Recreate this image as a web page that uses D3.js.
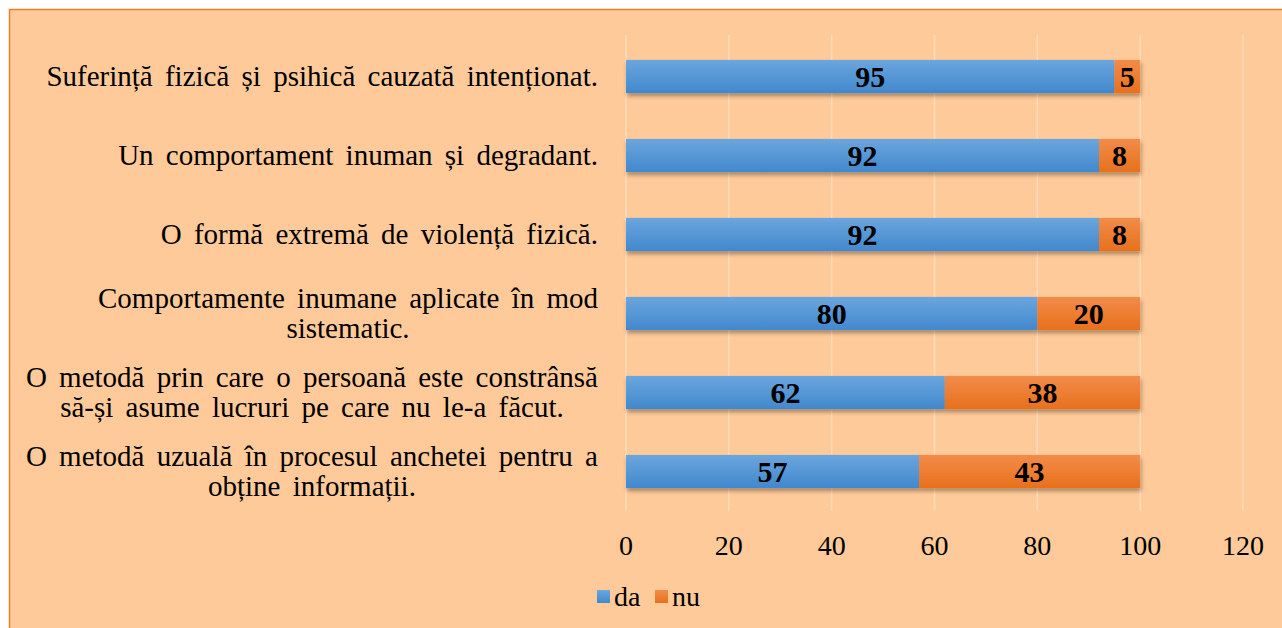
<!DOCTYPE html>
<html><head><meta charset="utf-8">
<script src="https://cdn.jsdelivr.net/npm/d3@7"></script>
<style>body{margin:0;background:#fff}svg{display:block}</style>
</head><body>
<svg id="c" width="1282" height="628"></svg>
<script>
const categories = [
  ["Suferință fizică și psihică cauzată intenționat."],
  ["Un comportament inuman și degradant."],
  ["O formă extremă de violență fizică."],
  ["Comportamente inumane aplicate în mod", "sistematic."],
  ["O metodă prin care o persoană este constrânsă", "să-și asume lucruri pe care nu le-a făcut."],
  ["O metodă uzuală în procesul anchetei pentru a", "obține informații."]
];
const da = [95, 92, 92, 80, 62, 57];
const nu = [5, 8, 8, 20, 38, 43];
const seriesNames = ["da", "nu"];
const xTicks = [0, 20, 40, 60, 80, 100, 120];

const FONT = "Liberation Serif";
const svg = d3.select("#c");
const defs = svg.append("defs");
function grad(id, top, bot){
  const g = defs.append("linearGradient").attr("id", id).attr("x1",0).attr("y1",0).attr("x2",0).attr("y2",1);
  g.append("stop").attr("offset","0%").attr("stop-color",top);
  g.append("stop").attr("offset","100%").attr("stop-color",bot);
}
grad("gBlue", "#6ba6de", "#4188cd");
grad("gOrange", "#f28c4a", "#e8701c");
const f = defs.append("filter").attr("id","sh").attr("x","-5%").attr("y","-30%").attr("width","110%").attr("height","180%");
f.append("feDropShadow").attr("dx",1).attr("dy",3).attr("stdDeviation",2).attr("flood-color","#000").attr("flood-opacity",0.35);

svg.append("rect").attr("x",9.5).attr("y",9.5).attr("width",1290).attr("height",640)
  .attr("fill","#ffca99").attr("stroke","#ed7d31").attr("stroke-width",1.5);

const x = d3.scaleLinear().domain([0,120]).range([626,1243]);
const y = d3.scaleBand().domain(d3.range(categories.length)).range([37,511]).paddingInner(0.58).paddingOuter(0.29);

// grid
svg.append("g").selectAll("line").data(xTicks).join("line")
  .attr("x1",d=>x(d)).attr("x2",d=>x(d)).attr("y1",35).attr("y2",511)
  .attr("stroke","#ffdcbc").attr("stroke-width",1.5);

// axis labels
svg.append("g").selectAll("text").data(xTicks).join("text")
  .attr("x",d=>x(d)).attr("y",545).attr("dy","0.35em").attr("text-anchor","middle")
  .style("font-family",FONT).attr("font-size",28).attr("fill","#000").text(d=>d);

// bars
const rows = da.map((d,i)=>({i, da:d, nu:nu[i]}));
const bars = svg.append("g");
rows.forEach(r=>{
  const g = bars.append("g").attr("filter","url(#sh)");
  g.append("rect").attr("x",x(0)).attr("y",y(r.i)).attr("width",x(r.da)-x(0)).attr("height",y.bandwidth()).attr("fill","url(#gBlue)");
  g.append("rect").attr("x",x(r.da)).attr("y",y(r.i)).attr("width",x(r.da+r.nu)-x(r.da)).attr("height",y.bandwidth()).attr("fill","url(#gOrange)");
});
rows.forEach(r=>{
  const cy = y(r.i)+y.bandwidth()/2;
  bars.append("text").attr("x",(x(0)+x(r.da))/2).attr("y",cy).attr("dy","0.35em").attr("text-anchor","middle")
    .style("font-family",FONT).attr("font-weight","bold").attr("font-size",30).text(r.da);
  bars.append("text").attr("x",(x(r.da)+x(r.da+r.nu))/2).attr("y",cy).attr("dy","0.35em").attr("text-anchor","middle")
    .style("font-family",FONT).attr("font-weight","bold").attr("font-size",30).text(r.nu);
});

// category labels
const labG = svg.append("g");
categories.forEach((lines,i)=>{
  const cy = y(i)+y.bandwidth()/2;
  const lh = 30;
  const t = labG.append("text").style("font-family",FONT).attr("font-size",29).style("word-spacing","5px").attr("fill","#000");
  const spans = lines.map((ln,k)=>t.append("tspan").text(ln));
  const widths = spans.map(s=>s.node().getComputedTextLength());
  const maxW = d3.max(widths);
  const right = 598;
  const center = right - maxW/2;
  const y0 = cy - (lines.length-1)*lh/2;
  spans.forEach((s,k)=>s.attr("x",center).attr("text-anchor","middle").attr("y",y0+k*lh).attr("dy","0.33em"));
});

// legend
const leg = svg.append("g");
const legItems = [{n:seriesNames[0], c:"url(#gBlue)", x:597},{n:seriesNames[1], c:"url(#gOrange)", x:655}];
legItems.forEach(it=>{
  leg.append("rect").attr("x",it.x).attr("y",590).attr("width",13).attr("height",13).attr("fill",it.c);
  leg.append("text").attr("x",it.x+17).attr("y",597).attr("dy","0.33em").style("font-family",FONT).attr("font-size",28).text(it.n);
});
</script>
</body></html>
